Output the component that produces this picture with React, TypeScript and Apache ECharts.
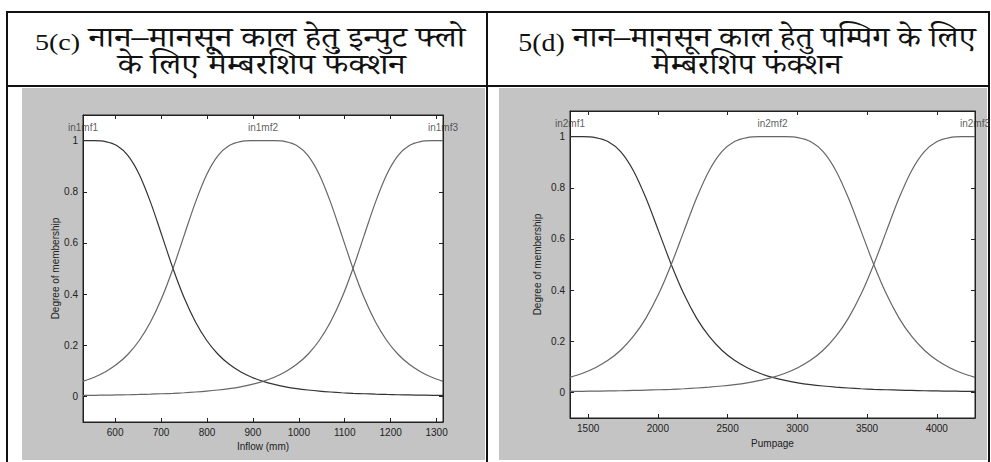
import React, { useEffect, useRef } from 'react';
import * as echarts from 'echarts';

// ---------- data ----------
const inflowX = [530, 554.5, 579, 603.5, 628, 652.5, 677, 701.5, 726, 750.5, 775, 799.5, 824, 848.5, 873, 897.5, 922, 946.5, 971, 995.5, 1020, 1044.5, 1069, 1093.5, 1118, 1142.5, 1167, 1191.5, 1216, 1240.5, 1265, 1289.5, 1314];
const inflowMf1 = [1, 0.9998, 0.9961, 0.9806, 0.9412, 0.8676, 0.7596, 0.6305, 0.5, 0.3843, 0.2906, 0.2186, 0.1649, 0.1254, 0.0964, 0.0749, 0.0588, 0.0468, 0.0376, 0.0305, 0.025, 0.0206, 0.0172, 0.0144, 0.0122, 0.0104, 0.0089, 0.0076, 0.0066, 0.0058, 0.005, 0.0044, 0.0039];
const inflowMf2 = [0.0588, 0.0749, 0.0964, 0.1254, 0.1649, 0.2186, 0.2906, 0.3843, 0.5, 0.6305, 0.7596, 0.8676, 0.9412, 0.9806, 0.9961, 0.9998, 1, 0.9998, 0.9961, 0.9806, 0.9412, 0.8676, 0.7596, 0.6305, 0.5, 0.3843, 0.2906, 0.2186, 0.1649, 0.1254, 0.0964, 0.0749, 0.0588];
const inflowMf3 = [0.0039, 0.0044, 0.005, 0.0058, 0.0066, 0.0076, 0.0089, 0.0104, 0.0122, 0.0144, 0.0172, 0.0206, 0.025, 0.0305, 0.0376, 0.0468, 0.0588, 0.0749, 0.0964, 0.1254, 0.1649, 0.2186, 0.2906, 0.3843, 0.5, 0.6305, 0.7596, 0.8676, 0.9412, 0.9806, 0.9961, 0.9998, 1];

const pumpX = [1370, 1460.75, 1551.5, 1642.25, 1733, 1823.75, 1914.5, 2005.25, 2096, 2186.75, 2277.5, 2368.25, 2459, 2549.75, 2640.5, 2731.25, 2822, 2912.75, 3003.5, 3094.25, 3185, 3275.75, 3366.5, 3457.25, 3548, 3638.75, 3729.5, 3820.25, 3911, 4001.75, 4092.5, 4183.25, 4274];
const pumpMf1 = [1, 0.9998, 0.9961, 0.9806, 0.9412, 0.8676, 0.7596, 0.6305, 0.5, 0.3843, 0.2906, 0.2186, 0.1649, 0.1254, 0.0964, 0.0749, 0.0588, 0.0468, 0.0376, 0.0305, 0.025, 0.0206, 0.0172, 0.0144, 0.0122, 0.0104, 0.0089, 0.0076, 0.0066, 0.0058, 0.005, 0.0044, 0.0039];
const pumpMf2 = [0.0588, 0.0749, 0.0964, 0.1254, 0.1649, 0.2186, 0.2906, 0.3843, 0.5, 0.6305, 0.7596, 0.8676, 0.9412, 0.9806, 0.9961, 0.9998, 1, 0.9998, 0.9961, 0.9806, 0.9412, 0.8676, 0.7596, 0.6305, 0.5, 0.3843, 0.2906, 0.2186, 0.1649, 0.1254, 0.0964, 0.0749, 0.0588];
const pumpMf3 = [0.0039, 0.0044, 0.005, 0.0058, 0.0066, 0.0076, 0.0089, 0.0104, 0.0122, 0.0144, 0.0172, 0.0206, 0.025, 0.0305, 0.0376, 0.0468, 0.0588, 0.0749, 0.0964, 0.1254, 0.1649, 0.2186, 0.2906, 0.3843, 0.5, 0.6305, 0.7596, 0.8676, 0.9412, 0.9806, 0.9961, 0.9998, 1];

const inflowTicks = [600, 700, 800, 900, 1000, 1100, 1200, 1300];
const pumpTicks = [1500, 2000, 2500, 3000, 3500, 4000];
const degreeTicks = [0, 0.2, 0.4, 0.6, 0.8, 1];

const inflowMfNames = ['in1mf1', 'in1mf2', 'in1mf3'];
const inflowMfCenters = [530, 922, 1314];
const pumpMfNames = ['in2mf1', 'in2mf2', 'in2mf3'];
const pumpMfCenters = [1370, 2822, 4274];
const mfLabelLevel = 1.05;

const headerLeftTag = '5(c)';
const headerLeft = ['नान–मानसून काल हेतु इन्पुट फ्लो', 'के लिए मेम्बरशिप फंक्शन'];
const headerRightTag = '5(d)';
const headerRight = ['नान–मानसून काल हेतु पम्पिग के लिए', 'मेम्बरशिप फंक्शन'];

// ---------- styling ----------
const SANS = '"Liberation Sans", Arial, Helvetica, sans-serif';
const SERIF = '"Liberation Serif", "Times New Roman", serif';
const DEVA = '"Noto Serif Devanagari", "Noto Sans Devanagari", "Lohit Devanagari", "FreeSerif", "Liberation Serif", serif';
const LINE = '#111';

function pairs(xs: number[], ys: number[]) {
  return xs.map((x, i) => [x, ys[i]]);
}

function xAxes(gridIndex: number, min: number, max: number, ticks: number[], name: string, gap: number) {
  const tick = { show: true, inside: true, length: 4, customValues: ticks, lineStyle: { color: '#222' } };
  return [
    {
      type: 'value', gridIndex, min, max, position: 'bottom',
      name, nameLocation: 'middle', nameGap: gap,
      nameTextStyle: { fontFamily: SANS, fontSize: 10, color: '#222' },
      axisLine: { show: true, onZero: false, lineStyle: { color: '#222', width: 1 } },
      axisTick: tick,
      axisLabel: { show: true, customValues: ticks, margin: 5, fontFamily: SANS, fontSize: 10, color: '#222', formatter: (v: number) => String(v) },
      splitLine: { show: false },
    },
    {
      type: 'value', gridIndex, min, max, position: 'top',
      axisLine: { show: true, onZero: false, lineStyle: { color: '#222', width: 1 } },
      axisTick: tick,
      axisLabel: { show: false },
      splitLine: { show: false },
    },
  ];
}

function yAxes(gridIndex: number, gap: number) {
  const tick = { show: true, inside: true, length: 4, customValues: degreeTicks, lineStyle: { color: '#222' } };
  return [
    {
      type: 'value', gridIndex, min: -0.1, max: 1.1, position: 'left',
      name: 'Degree of membership', nameLocation: 'middle', nameGap: gap,
      nameTextStyle: { fontFamily: SANS, fontSize: 10, color: '#222' },
      axisLine: { show: true, onZero: false, lineStyle: { color: '#222', width: 1 } },
      axisTick: tick,
      axisLabel: { show: true, customValues: degreeTicks, margin: 5, fontFamily: SANS, fontSize: 10, color: '#222', formatter: (v: number) => String(v) },
      splitLine: { show: false },
    },
    {
      type: 'value', gridIndex, min: -0.1, max: 1.1, position: 'right',
      axisLine: { show: true, onZero: false, lineStyle: { color: '#222', width: 1 } },
      axisTick: tick,
      axisLabel: { show: false },
      splitLine: { show: false },
    },
  ];
}

function mfSeries(axisIdx: number, xs: number[], ys: number[], color: string) {
  return {
    type: 'line', xAxisIndex: axisIdx, yAxisIndex: axisIdx,
    data: pairs(xs, ys), showSymbol: false, symbol: 'none', smooth: 0.3,
    lineStyle: { color, width: 1.2 }, silent: true,
  };
}

function labelSeries(axisIdx: number, centers: number[], names: string[]) {
  return {
    type: 'scatter', xAxisIndex: axisIdx, yAxisIndex: axisIdx,
    symbolSize: 1, itemStyle: { color: 'rgba(0,0,0,0)' }, silent: true,
    data: centers.map((c, i) => ({ value: [c, mfLabelLevel], name: names[i] })),
    label: { show: true, position: 'inside', formatter: (p: any) => p.name, fontFamily: SANS, fontSize: 10, color: '#333' },
  };
}

const HEADER_LH = 27;

function headerText(tag: string, lines: string[], x: number, y: number, scaleX: number, tagSize: number, line2Pad: number) {
  return {
    type: 'text', x, y, scaleX, silent: true,
    style: {
      text: `{tag|${tag}}{deva|${lines[0]}}\n{deva2|${lines[1]}}`,
      rich: {
        tag: { fontFamily: SERIF, fontSize: tagSize, fill: '#111', lineHeight: HEADER_LH, padding: [0, 7, 0, 0] },
        deva: { fontFamily: DEVA, fontSize: 29, fill: '#111', lineHeight: HEADER_LH },
        deva2: { fontFamily: DEVA, fontSize: 29, fill: '#111', lineHeight: HEADER_LH, padding: [0, 0, 0, line2Pad] },
      },
      align: 'center', verticalAlign: 'middle',
      fontSize: 29, fontFamily: DEVA, fill: '#111', lineHeight: HEADER_LH,
    },
  };
}

export default function App() {
  const ref = useRef<HTMLDivElement>(null);
  useEffect(() => {
    if (!ref.current) return;
    const chart = echarts.init(ref.current, undefined, { renderer: 'svg' });
    const hline = (x1: number, x2: number, y: number) => ({ type: 'line', silent: true, shape: { x1, y1: y, x2, y2: y }, style: { stroke: LINE, lineWidth: 2 } });
    const vline = (x: number, y1: number, y2: number) => ({ type: 'line', silent: true, shape: { x1: x, y1, x2: x, y2 }, style: { stroke: LINE, lineWidth: 2 } });
    chart.setOption({
      animation: false,
      backgroundColor: '#fff',
      graphic: [
        { type: 'rect', z: -100, silent: true, shape: { x: 22, y: 88, width: 463, height: 372 }, style: { fill: '#c4c4c4' } },
        { type: 'rect', z: -100, silent: true, shape: { x: 499, y: 88, width: 488, height: 372 }, style: { fill: '#c4c4c4' } },
        hline(6, 990, 12),
        hline(6, 990, 86),
        vline(7, 11, 462),
        vline(487, 11, 462),
        vline(989, 11, 462),
        headerText(headerLeftTag, headerLeft, 250, 56, 1.17, 24, 20),
        headerText(headerRightTag, headerRight, 747, 56, 1.12, 25, 0),
      ],
      grid: [
        { left: 83, top: 115, width: 360, height: 307, show: true, backgroundColor: '#fff', borderColor: '#222', borderWidth: 1 },
        { left: 570, top: 111, width: 405, height: 307, show: true, backgroundColor: '#fff', borderColor: '#222', borderWidth: 1 },
      ],
      xAxis: [
        ...xAxes(0, 530, 1314, inflowTicks, 'Inflow (mm)', 19),
        ...xAxes(1, 1370, 4274, pumpTicks, 'Pumpage', 20),
      ],
      yAxis: [
        ...yAxes(0, 23),
        ...yAxes(1, 28),
      ],
      series: [
        mfSeries(0, inflowX, inflowMf1, '#333'),
        mfSeries(0, inflowX, inflowMf2, '#666'),
        mfSeries(0, inflowX, inflowMf3, '#666'),
        labelSeries(0, inflowMfCenters, inflowMfNames),
        mfSeries(2, pumpX, pumpMf1, '#333'),
        mfSeries(2, pumpX, pumpMf2, '#666'),
        mfSeries(2, pumpX, pumpMf3, '#666'),
        labelSeries(2, pumpMfCenters, pumpMfNames),
      ],
    });
    return () => chart.dispose();
  }, []);
  return <div ref={ref} style={{ position: 'fixed', left: 0, top: 0, width: 991, height: 462, background: '#fff' }} />;
}
